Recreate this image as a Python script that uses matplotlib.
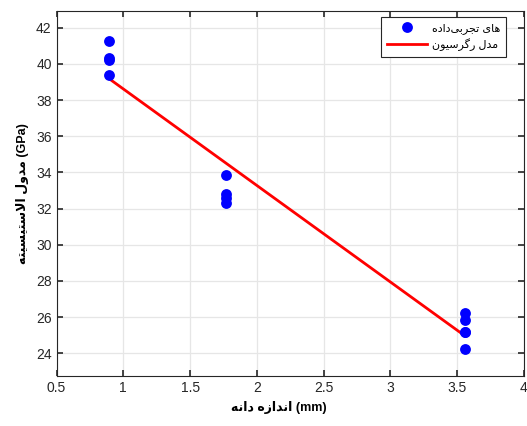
import matplotlib
matplotlib.use("Agg")
import matplotlib.pyplot as plt
import numpy as np

plt.rcParams["font.family"] = ["Liberation Sans", "DejaVu Sans"]

# ── data ──────────────────────────────────────────────────────────────────────
grain_size = [0.89, 0.89, 0.89, 0.89,
              1.77, 1.77, 1.77, 1.77,
              3.56, 3.56, 3.56, 3.56, 3.56]
modulus    = [41.25, 40.3, 40.2, 39.4,
              33.85, 32.8, 32.6, 32.3,
              26.25, 25.85, 25.2, 25.15, 24.25]
fit_x = [0.89, 3.56]
fit_y = [39.2, 24.95]

x_ticks = [0.5, 1, 1.5, 2, 2.5, 3, 3.5, 4]
y_ticks = [24, 26, 28, 30, 32, 34, 36, 38, 40, 42]

# ── persian text (matplotlib has no shaping → presentation forms) ─────────────
FORMS = {  # isolated, final, initial, medial
    "ا": ("\uFE8D", "\uFE8E", None, None),
    "ب": ("\uFE8F", "\uFE90", "\uFE91", "\uFE92"),
    "ت": ("\uFE95", "\uFE96", "\uFE97", "\uFE98"),
    "ج": ("\uFE9D", "\uFE9E", "\uFE9F", "\uFEA0"),
    "د": ("\uFEA9", "\uFEAA", None, None),
    "ر": ("\uFEAD", "\uFEAE", None, None),
    "ز": ("\uFEAF", "\uFEB0", None, None),
    "س": ("\uFEB1", "\uFEB2", "\uFEB3", "\uFEB4"),
    "ل": ("\uFEDD", "\uFEDE", "\uFEDF", "\uFEE0"),
    "م": ("\uFEE1", "\uFEE2", "\uFEE3", "\uFEE4"),
    "ن": ("\uFEE5", "\uFEE6", "\uFEE7", "\uFEE8"),
    "ه": ("\uFEE9", "\uFEEA", "\uFEEB", "\uFEEC"),
    "و": ("\uFEED", "\uFEEE", None, None),
    "ی": ("\uFBFC", "\uFBFD", "\uFBFE", "\uFBFF"),
    "گ": ("\uFB92", "\uFB93", "\uFB94", "\uFB95"),
}


def dual(c):
    return c in FORMS and FORMS[c][2] is not None


def rtl(text):
    out = []
    i = 0
    while i < len(text):
        c = text[i]
        prev = text[i - 1] if i > 0 else ""
        nxt = text[i + 1] if i + 1 < len(text) else ""
        if c not in FORMS:
            out.append(c)
            i += 1
            continue
        jp = dual(prev)
        if c == "ل" and nxt == "ا":
            out.append("\uFEFC" if jp else "\uFEFB")
            i += 2
            continue
        jn = dual(c) and nxt in FORMS
        iso, fin, ini, med = FORMS[c]
        out.append(med if jp and jn else fin if jp else ini if jn else iso)
        i += 1
    return "".join(reversed(out))


x_label = rtl("اندازه دانه") + " (mm)"
y_label = rtl("مدول الاستیسیته") + " (GPa)"
# legend words appear in left-to-right word order in the original
leg_data = rtl("داده") + rtl("تجربی") + " " + rtl("های")
leg_fit = rtl("رگرسیون") + " " + rtl("مدل")

# ── plot ──────────────────────────────────────────────────────────────────────
W, H = 527, 426
fig = plt.figure(figsize=(W / 100, H / 100), dpi=100)
ax = fig.add_axes([56.5 / W, 1 - 375.7 / H, (524 - 56.5) / W, (375.7 - 11) / H])

ax.plot(grain_size, modulus, "o", color="blue", markersize=7.8,
        markeredgewidth=0, label=leg_data, zorder=3)
ax.plot(fit_x, fit_y, "-", color="red", linewidth=2, label=leg_fit, zorder=2)

ax.set_xlim(0.5, 4)
ax.set_ylim(22.76, 42.92)
ax.set_xticks(x_ticks)
ax.set_xticklabels([f"{t:g}" for t in x_ticks])
ax.set_yticks(y_ticks)
ax.grid(True, color="#e6e6e6", linewidth=0.9)
ax.set_axisbelow(True)
ax.tick_params(direction="in", length=4, width=1.2, top=True, right=True,
               labelsize=10, colors="#262626", labelcolor="#262626")
for s in ax.spines.values():
    s.set_color("#262626")
    s.set_linewidth(0.8)

ax.set_xlabel(x_label, fontsize=9, fontweight="bold", labelpad=4)
ax.set_ylabel(y_label, fontsize=9, fontweight="bold", labelpad=5)
ax.xaxis.set_label_coords(0.475, -0.07)

leg = ax.legend(loc="upper right", bbox_to_anchor=(506 / W, 1 - 17 / H),
                bbox_transform=fig.transFigure, borderaxespad=0,
                fontsize=8, frameon=True, fancybox=False, framealpha=1,
                edgecolor="#262626", handlelength=3.6, handletextpad=0.5,
                borderpad=0.5, labelspacing=0.45)
leg.get_frame().set_linewidth(0.8)

fig.savefig("out.png", dpi=100)
